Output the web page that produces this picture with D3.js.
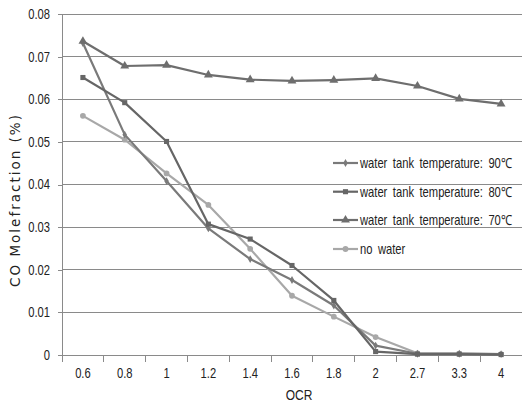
<!DOCTYPE html>
<html><head><meta charset="utf-8">
<script src="https://cdn.jsdelivr.net/npm/d3@7"></script>
<style>
body{margin:0;background:#fff;}
svg{display:block;}
.tick text{font-family:"Liberation Sans",Arial,sans-serif;font-size:14px;fill:#222;}
</style></head>
<body>
<svg id="chart" width="522" height="413"></svg>
<script>
const categories = ["0.6","0.8","1","1.2","1.4","1.6","1.8","2","2.7","3.3","4"];
const yTicks = [0,0.01,0.02,0.03,0.04,0.05,0.06,0.07,0.08];
const yTickLabels = ["0","0.01","0.02","0.03","0.04","0.05","0.06","0.07","0.08"];
const seriesNames = ["water tank temperature: 90℃","water tank temperature: 80℃","water tank temperature: 70℃","no water"];
const s90 = [0.0732,0.0517,0.0408,0.0297,0.0225,0.0176,0.0116,0.0022,0.0003,0.0003,0.0002];
const s80 = [0.0651,0.0592,0.0501,0.0307,0.0272,0.0210,0.0128,0.0008,0.0002,0.0002,0.0001];
const s70 = [0.0736,0.0678,0.0680,0.0657,0.0646,0.0643,0.0645,0.0649,0.0631,0.0601,0.0589];
const sNo = [0.0561,0.0505,0.0426,0.0352,0.0249,0.0139,0.0090,0.0042,0.0004,0.0003,0.0002];
const colors = ["#7a7a7a","#666666","#6e6e6e","#a8a8a8"];
const markers = ["cross","square","triangle","diamond"];
const SX = 0.8; // horizontal condensing to mimic a narrow font

const svg = d3.select("#chart");
const L=62, R=522, T=14, B=355;
const x = d3.scaleBand().domain(categories).range([L,R]).padding(0);
const y = d3.scaleLinear().domain([0,0.08]).range([B,T]);

// gridlines
svg.append("g").selectAll("line").data(yTicks.slice(1)).join("line")
  .attr("x1",L).attr("x2",R).attr("y1",d=>y(d)).attr("y2",d=>y(d))
  .attr("stroke","#8a8a8a").attr("stroke-width",1).attr("shape-rendering","crispEdges");

// y axis
const yAxis = svg.append("g").attr("transform",`translate(${L},0)`)
  .call(d3.axisLeft(y).tickValues(yTicks).tickFormat((d,i)=>yTickLabels[i]).tickSize(4).tickPadding(8));
yAxis.selectAll("path,line").attr("stroke","#8a8a8a").attr("shape-rendering","crispEdges");
yAxis.select(".domain").attr("d",`M-4,${T}H0V${B}H-4`);
yAxis.selectAll(".tick text").attr("x",-12/SX).attr("transform",`scale(${SX},1)`);

// x axis
const xAxis = svg.append("g").attr("transform",`translate(0,${B})`)
  .call(d3.axisBottom(x).tickSize(0).tickPadding(16));
xAxis.select(".domain").attr("stroke","#8a8a8a").attr("shape-rendering","crispEdges");
xAxis.selectAll(".tick text").attr("dy","0.5em").attr("transform",`scale(${SX},1)`);
xAxis.append("g").selectAll("line").data(categories).join("line")
  .attr("x1",d=>x(d)).attr("x2",d=>x(d)).attr("y1",0).attr("y2",7)
  .attr("stroke","#8a8a8a").attr("shape-rendering","crispEdges");

// axis titles
svg.append("g").attr("transform",`translate(299,400) scale(${SX},1)`).append("text")
  .attr("text-anchor","middle")
  .style("font-family","'Liberation Sans',sans-serif").style("font-size","15px").attr("fill","#222").text("OCR");
svg.append("text").attr("transform","translate(20,200) rotate(-90)").attr("text-anchor","middle")
  .style("font-family","'DejaVu Sans',sans-serif").style("font-size","13.5px").style("letter-spacing","2px")
  .attr("fill","#222").text("CO Molefraction (%)");

function markerPath(type){
  if(type==="square") return d3.symbol().type(d3.symbolSquare).size(26)();
  if(type==="triangle") return d3.symbol().type(d3.symbolTriangle).size(34)();
  if(type==="diamond") return d3.symbol().type(d3.symbolCircle).size(26)();
  return d3.symbol().type(d3.symbolDiamond).size(18)();
}

const allSeries = [s90,s80,s70,sNo];
const line = d3.line().x((d,i)=>x(categories[i])+x.bandwidth()/2).y(d=>y(d));
const order = [3,0,1,2];
order.forEach(k=>{
  const g = svg.append("g");
  g.append("path").datum(allSeries[k]).attr("d",line).attr("fill","none")
    .attr("stroke",colors[k]).attr("stroke-width",2.2).attr("stroke-linejoin","round");
  g.selectAll("path.m").data(allSeries[k]).join("path").attr("class","m")
    .attr("transform",(d,i)=>`translate(${x(categories[i])+x.bandwidth()/2},${y(d)})`)
    .attr("d",markerPath(markers[k])).attr("fill",colors[k]);
});

// legend
const legY = [163,191.7,220,249];
const leg = svg.append("g");
seriesNames.forEach((name,k)=>{
  const gg = leg.append("g").attr("transform",`translate(333,${legY[k]})`);
  gg.append("line").attr("x1",0).attr("x2",25).attr("y1",0).attr("y2",0).attr("stroke",colors[k]).attr("stroke-width",2.2);
  gg.append("path").attr("transform","translate(12.5,0)").attr("d",markerPath(markers[k])).attr("fill",colors[k]);
  gg.append("g").attr("transform",`translate(27,0) scale(${SX},1)`).append("text")
    .attr("x",0).attr("y",0).attr("dy","0.35em")
    .style("font-family","'Liberation Sans',sans-serif").style("font-size","14px").style("word-spacing","3px")
    .attr("fill","#222").text(name);
});
</script>
</body></html>
